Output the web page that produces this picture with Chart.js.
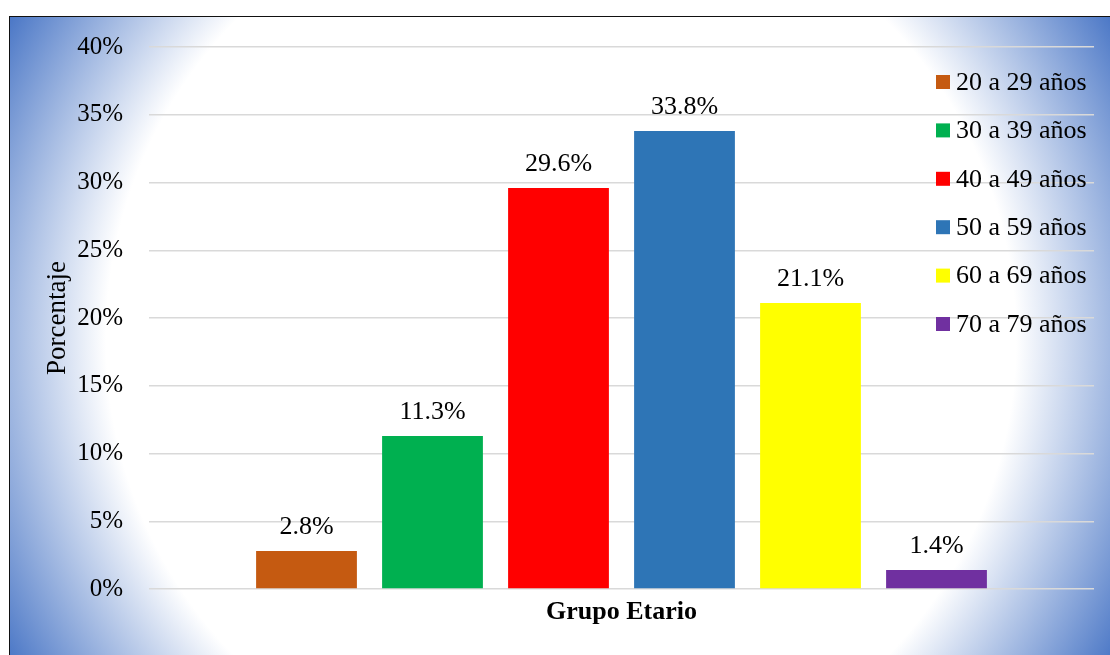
<!DOCTYPE html>
<html lang="es">
<head>
<meta charset="utf-8">
<title>Grupo Etario</title>
<script src="https://cdn.jsdelivr.net/npm/chart.js@4/dist/chart.umd.min.js"></script>
<style>
  html, body { margin: 0; padding: 0; background: #fff; overflow: hidden; }
  #wrap { position: relative; width: 1110px; height: 655px; overflow: hidden; }
  #bg {
    position: absolute; left: 9px; top: 16px; width: 1120px; height: 660px;
    border-left: 1.5px solid #111; border-top: 1.5px solid #111;
    background: radial-gradient(circle at 551px 322px, #ffffff 455px, #4472c4 645px);
  }
  #chart { position: absolute; left: 0; top: 0; }
</style>
</head>
<body>
<div id="wrap">
  <div id="bg"></div>
  <canvas id="chart" width="1110" height="655"></canvas>
</div>
<script>
const categories = ["Grupo Etario"];
const groupLabels = ["20 a 29 años", "30 a 39 años", "40 a 49 años", "50 a 59 años", "60 a 69 años", "70 a 79 años"];
const percentages = [2.8, 11.3, 29.6, 33.8, 21.1, 1.4];
const barColors = ["#C55A11", "#00B050", "#FF0000", "#2E75B6", "#FFFF00", "#7030A0"];
const yTickValues = [0, 5, 10, 15, 20, 25, 30, 35, 40];

const serif = "'Liberation Serif', 'Times New Roman', serif";

// Etiquetas de valor encima de cada barra
const valueLabels = {
  id: "valueLabels",
  afterDatasetsDraw(chart) {
    const ctx = chart.ctx;
    ctx.save();
    ctx.font = "26px " + serif;
    ctx.fillStyle = "#000";
    ctx.textAlign = "center";
    ctx.textBaseline = "alphabetic";
    chart.data.datasets.forEach((ds, i) => {
      chart.getDatasetMeta(i).data.forEach((bar, j) => {
        ctx.fillText(ds.data[j].toFixed(1) + "%", bar.x, bar.y - 17);
      });
    });
    ctx.restore();
  }
};

// Leyenda dentro del área del gráfico, a la derecha
const sideLegend = {
  id: "sideLegend",
  afterDraw(chart) {
    const ctx = chart.ctx;
    ctx.save();
    ctx.font = "26px " + serif;
    ctx.textAlign = "left";
    ctx.textBaseline = "middle";
    chart.data.datasets.forEach((ds, i) => {
      const y = 82 + i * 48.4;
      ctx.fillStyle = ds.backgroundColor;
      ctx.fillRect(936, y - 7, 14, 14);
      ctx.fillStyle = "#000";
      ctx.fillText(ds.label, 956, y + 1);
    });
    ctx.restore();
  }
};

new Chart(document.getElementById("chart"), {
  type: "bar",
  data: {
    labels: categories,
    datasets: groupLabels.map((label, i) => ({
      label: label,
      data: [percentages[i]],
      backgroundColor: barColors[i],
      categoryPercentage: 0.8,
      barPercentage: 0.8
    }))
  },
  options: {
    responsive: false,
    animation: false,
    layout: { padding: { top: 47, right: 16, bottom: 0, left: 0 } },
    plugins: {
      legend: { display: false },
      tooltip: { enabled: false }
    },
    scales: {
      x: {
        grid: { display: false },
        border: { display: false },
        ticks: {
          color: "#000",
          padding: 0,
          font: { family: serif, size: 26, weight: "bold" }
        },
        afterFit: s => { s.height = 66; }
      },
      y: {
        min: 0,
        max: 40,
        afterBuildTicks: axis => { axis.ticks = yTickValues.map(v => ({ value: v })); },
        grid: { color: "#d9d9d9", lineWidth: 1.5, drawTicks: false },
        border: { display: false },
        ticks: {
          color: "#000",
          padding: 26,
          font: { family: serif, size: 25 },
          callback: v => v + "%"
        },
        title: {
          display: true,
          text: "Porcentaje",
          color: "#000",
          padding: { top: 42, bottom: 0 },
          font: { family: serif, size: 27 }
        },
        afterFit: s => { s.width = 149; }
      }
    }
  },
  plugins: [valueLabels, sideLegend]
});
</script>
</body>
</html>
